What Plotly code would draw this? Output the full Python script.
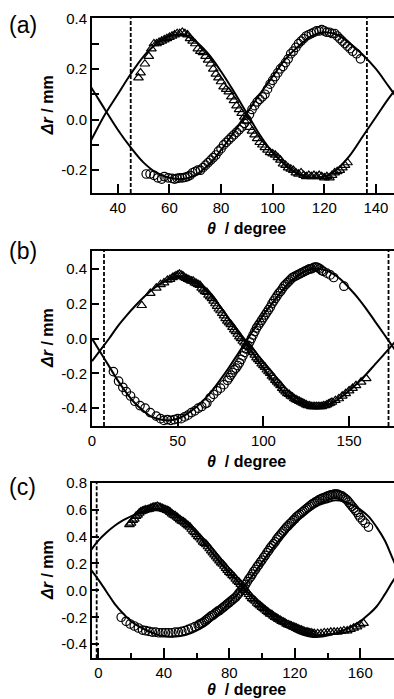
import plotly.graph_objects as go

# ---------------- Panel (a) ----------------
A_FIT_X = [25, 30, 35, 40, 45, 50, 55, 60, 65, 70, 75, 80, 85, 90, 95, 100, 105, 110, 115, 120, 125, 130, 135, 140, 145, 150]
A_FIT_TRI = [-0.17, -0.075, 0.02, 0.10, 0.18, 0.25, 0.30, 0.33, 0.335, 0.31, 0.26, 0.19, 0.11, 0.025, -0.06, -0.13, -0.18, -0.215, -0.23, -0.225, -0.195, -0.14, -0.065, 0.01, 0.085, 0.15]
A_FIT_CIR = [0.20, 0.122, 0.04, -0.04, -0.11, -0.17, -0.21, -0.23, -0.235, -0.22, -0.18, -0.12, -0.05, 0.025, 0.10, 0.17, 0.24, 0.29, 0.33, 0.345, 0.335, 0.30, 0.255, 0.20, 0.13, 0.06]

A_TRI_X = [48, 48.8, 50.5, 52, 53, 54, 55, 56, 57, 58, 59, 60, 61, 62, 63, 64, 65, 66, 67, 68, 69, 70, 71, 72, 73, 74, 75, 76, 77, 78, 79, 80,
           81, 82, 83, 84, 85, 86, 87, 88, 89, 90, 91, 92, 93, 94, 95, 96, 97, 98, 99, 100, 101, 102, 103, 104, 105, 106, 107, 108,
           109, 110, 111, 112, 113, 114, 115, 116, 117, 118, 119, 120, 121, 122, 123, 124, 125, 126, 127, 128, 129]
A_TRI_Y = [0.165, 0.185, 0.22, 0.25, 0.28, 0.30, 0.30, 0.305, 0.31, 0.315, 0.32, 0.325, 0.33, 0.335, 0.34, 0.34, 0.345, 0.34, 0.335, 0.32, 0.31, 0.30,
           0.28, 0.27, 0.265, 0.25, 0.235, 0.22, 0.20, 0.18, 0.165, 0.15, 0.13, 0.12, 0.11, 0.09, 0.075, 0.055, 0.04, 0.025, 0.01, -0.005,
           -0.03, -0.045, -0.06, -0.075, -0.09, -0.10, -0.11, -0.12, -0.13, -0.135, -0.14, -0.15, -0.16, -0.175, -0.18, -0.19, -0.195, -0.20,
           -0.21, -0.215, -0.21, -0.22, -0.225, -0.22, -0.225, -0.22, -0.225, -0.22, -0.225, -0.23, -0.225, -0.23, -0.22, -0.21, -0.205,
           -0.20, -0.19, -0.18, -0.17]

A_CIR_X = [51, 52.5, 54, 55.5, 57, 58, 59.5, 61, 62, 63, 64, 65, 66, 67, 68, 69, 70, 71, 72, 73, 74, 75, 76, 77, 78, 79, 80, 81, 82, 83,
           84, 85, 86, 87, 88, 89, 90, 91, 92, 93, 94, 95, 96, 97, 98, 99, 100, 101, 102, 103, 104, 105, 106, 107, 108, 109, 110, 111,
           112, 113, 114, 115, 116, 117, 118, 119, 120, 121, 122, 123, 124, 125, 126, 127, 128, 129, 130, 131, 132.5, 134]
A_CIR_Y = [-0.215, -0.215, -0.22, -0.23, -0.235, -0.225, -0.23, -0.232, -0.235, -0.232, -0.23, -0.23, -0.228, -0.225, -0.22, -0.21, -0.205,
           -0.20, -0.20, -0.19, -0.18, -0.17, -0.16, -0.15, -0.14, -0.125, -0.115, -0.10, -0.09, -0.08, -0.07, -0.06, -0.05, -0.04, -0.03,
           -0.015, 0.0, 0.02, 0.04, 0.055, 0.07, 0.08, 0.09, 0.10, 0.12, 0.14, 0.155, 0.17, 0.185, 0.20, 0.21, 0.225, 0.24, 0.26, 0.27,
           0.285, 0.30, 0.31, 0.32, 0.33, 0.335, 0.34, 0.345, 0.35, 0.35, 0.355, 0.35, 0.345, 0.345, 0.34, 0.34, 0.33, 0.32, 0.31, 0.30,
           0.29, 0.28, 0.27, 0.26, 0.24]

A_DASH = [45, 136.5]
A_XTICKS = [40, 60, 80, 100, 120, 140]
A_XTICKTEXT = ["40", "60", "80", "100", "120", "140"]
A_YTICKS = [0.4, 0.3, 0.2, 0.1, 0.0, -0.1, -0.2]
A_YTICKTEXT = ["0.4", "", "0.2", "", "0.0", "", "-0.2"]

# ---------------- Panel (b) ----------------
B_FIT_X = [0, 5, 10, 15, 20, 25, 30, 35, 40, 45, 50, 55, 60, 65, 70, 75, 80, 85, 90, 95, 100, 105, 110, 115, 120, 125, 130, 135, 140,
           145, 150, 155, 160, 165, 170, 175, 180]
B_FIT_TRI = [-0.13, -0.065, 0.0, 0.07, 0.13, 0.185, 0.235, 0.28, 0.315, 0.34, 0.35, 0.345, 0.325, 0.29, 0.24, 0.18, 0.11, 0.04, -0.03,
             -0.10, -0.17, -0.235, -0.29, -0.335, -0.365, -0.385, -0.39, -0.385, -0.37, -0.34, -0.30, -0.255, -0.205, -0.15, -0.095,
             -0.04, 0.02]
B_FIT_CIR = [0.0, -0.08, -0.16, -0.24, -0.31, -0.37, -0.415, -0.45, -0.465, -0.47, -0.46, -0.435, -0.40, -0.355, -0.30, -0.235,
             -0.165, -0.09, -0.015, 0.06, 0.135, 0.20, 0.265, 0.32, 0.36, 0.39, 0.40, 0.395, 0.375, 0.34, 0.29, 0.235, 0.17, 0.10,
             0.03, -0.04, -0.11]

B_TRI_X = [29, 34, 37.5, 40, 42, 44, 45.5, 47, 48, 49, 50, 51, 52, 53, 54, 55, 56, 57, 58, 59, 60, 61, 62, 63, 64, 65, 66, 67, 68, 69,
           70, 71, 72, 73, 74, 75, 76, 77, 78, 79, 80, 81, 82, 83, 84, 85, 86, 87, 88, 89, 90, 91, 92, 93, 94, 95, 96, 97, 98, 99,
           100, 101, 102, 103, 104, 105, 106, 107, 108, 109, 110, 111, 112, 113, 114, 115, 116, 117, 118, 119, 120, 121, 122, 123,
           124, 125, 126, 127, 128, 129, 130, 131, 132, 133, 134, 135, 136, 137, 138, 139, 140, 142, 144, 146, 148, 150, 152, 154,
           157, 160]
B_TRI_Y = [0.19, 0.26, 0.29, 0.31, 0.32, 0.335, 0.34, 0.35, 0.355, 0.36, 0.365, 0.37, 0.365, 0.36, 0.35, 0.345, 0.34, 0.335, 0.33,
           0.33, 0.32, 0.315, 0.31, 0.305, 0.29, 0.28, 0.27, 0.265, 0.25, 0.24, 0.23, 0.215, 0.20, 0.185, 0.17, 0.16, 0.145, 0.13,
           0.115, 0.10, 0.09, 0.08, 0.065, 0.05, 0.04, 0.025, 0.01, 0.0, -0.015, -0.025, -0.035, -0.045, -0.055, -0.07, -0.08,
           -0.095, -0.11, -0.12, -0.13, -0.145, -0.155, -0.165, -0.18, -0.19, -0.20, -0.215, -0.225, -0.24, -0.25, -0.26, -0.27,
           -0.285, -0.295, -0.305, -0.315, -0.32, -0.33, -0.335, -0.345, -0.35, -0.355, -0.36, -0.365, -0.37, -0.375, -0.38,
           -0.385, -0.385, -0.39, -0.39, -0.39, -0.39, -0.39, -0.39, -0.39, -0.385, -0.385, -0.38, -0.375, -0.37, -0.365, -0.355,
           -0.345, -0.33, -0.315, -0.30, -0.285, -0.27, -0.25, -0.23]

B_CIR_X = [12.5, 15.5, 18, 20, 22.5, 25, 28, 31, 34, 37.5, 40, 42, 44, 46, 48, 50, 52, 54, 56, 58, 60, 62, 64, 66, 67, 69, 71, 73, 75,
           77, 79, 80, 81, 82, 83, 84, 85, 86, 87, 88, 89, 90, 91, 92, 93, 94, 95, 96, 97, 98, 99, 100, 101, 102, 103, 104, 105,
           106, 107, 108, 109, 110, 111, 112, 113, 114, 115, 116, 117, 118, 119, 120, 121, 122, 123, 124, 125, 126, 127, 128, 129,
           130, 131, 132, 133, 134, 135, 137, 139, 141, 147]
B_CIR_Y = [-0.19, -0.245, -0.28, -0.305, -0.33, -0.36, -0.385, -0.40, -0.425, -0.445, -0.46, -0.47, -0.465, -0.47, -0.465, -0.46,
           -0.46, -0.45, -0.44, -0.425, -0.415, -0.40, -0.39, -0.375, -0.37, -0.34, -0.32, -0.30, -0.285, -0.265, -0.24, -0.225,
           -0.21, -0.195, -0.18, -0.17, -0.155, -0.14, -0.12, -0.10, -0.08, -0.06, -0.04, -0.02, 0.0, 0.02, 0.04, 0.06, 0.075,
           0.09, 0.105, 0.12, 0.135, 0.15, 0.165, 0.18, 0.20, 0.215, 0.23, 0.245, 0.26, 0.27, 0.285, 0.30, 0.31, 0.32, 0.33,
           0.34, 0.35, 0.355, 0.36, 0.365, 0.37, 0.375, 0.38, 0.385, 0.39, 0.395, 0.40, 0.40, 0.405, 0.41, 0.41, 0.405, 0.40,
           0.39, 0.385, 0.375, 0.365, 0.35, 0.30]

B_DASH = [7, 173]
B_XTICKS = [0, 50, 100, 150]
B_XTICKTEXT = ["0", "50", "100", "150"]
B_YTICKS = [0.4, 0.2, 0.0, -0.2, -0.4]
B_YTICKTEXT = ["0.4", "0.2", "0.0", "-0.2", "-0.4"]

# ---------------- Panel (c) ----------------
C_FIT_X = [-5, 0, 5, 10, 15, 20, 25, 30, 35, 40, 45, 50, 55, 60, 65, 70, 75, 80, 85, 90, 95, 100, 105, 110, 115, 120, 125, 130, 135,
           140, 145, 150, 155, 160, 165, 170, 175, 180, 185]
C_FIT_TRI = [0.29, 0.37, 0.43, 0.48, 0.52, 0.55, 0.575, 0.59, 0.595, 0.59, 0.57, 0.535, 0.485, 0.425, 0.35, 0.275, 0.20, 0.135, 0.07,
             0.0, -0.065, -0.125, -0.18, -0.23, -0.27, -0.305, -0.33, -0.345, -0.345, -0.335, -0.32, -0.295, -0.265, -0.23, -0.18,
             -0.12, -0.03, 0.07, 0.15]
C_FIT_CIR = [0.16, 0.08, -0.01, -0.10, -0.17, -0.23, -0.27, -0.30, -0.325, -0.34, -0.345, -0.34, -0.325, -0.30, -0.265, -0.215,
             -0.155, -0.09, -0.03, 0.045, 0.125, 0.21, 0.29, 0.365, 0.435, 0.50, 0.555, 0.60, 0.635, 0.655, 0.67, 0.66, 0.635,
             0.60, 0.55, 0.47, 0.37, 0.23, 0.10]

C_TRI_X = [19, 20, 21, 22, 23, 24, 25, 26, 27, 28, 29, 30, 31, 32, 33, 34, 35, 36, 37, 38, 39, 40, 41, 42, 43, 44, 45, 46, 47, 48, 49,
           50, 51, 52, 53, 54, 55, 56, 57, 58, 59, 60, 61, 62, 63, 64, 65, 66, 67, 68, 69, 70, 71, 72, 73, 74, 75, 76, 77, 78, 79,
           80, 81, 82, 83, 84, 85, 86, 87, 88, 89, 90, 91, 92, 93, 94, 95, 96, 97, 98, 99, 100, 101, 102, 103, 104, 105, 106, 107,
           108, 109, 110, 111, 112, 113, 114, 115, 116, 117, 118, 119, 120, 121, 122, 123, 124, 125, 126, 127, 128, 129, 130, 131,
           132, 134, 136, 138, 140, 142, 144, 146, 148, 150, 152, 154, 156, 158, 160, 162]
C_TRI_Y = [0.49, 0.50, 0.52, 0.53, 0.55, 0.56, 0.575, 0.585, 0.59, 0.595, 0.60, 0.60, 0.605, 0.61, 0.615, 0.62, 0.62, 0.625, 0.62,
           0.615, 0.61, 0.605, 0.60, 0.595, 0.59, 0.58, 0.57, 0.56, 0.555, 0.545, 0.535, 0.525, 0.515, 0.51, 0.50, 0.49, 0.48, 0.47,
           0.455, 0.44, 0.43, 0.415, 0.40, 0.39, 0.375, 0.36, 0.35, 0.34, 0.325, 0.31, 0.295, 0.28, 0.265, 0.25, 0.235, 0.22, 0.205,
           0.195, 0.18, 0.165, 0.15, 0.135, 0.125, 0.11, 0.10, 0.085, 0.07, 0.06, 0.045, 0.03, 0.015, 0.0, -0.015, -0.03, -0.045,
           -0.06, -0.07, -0.08, -0.095, -0.105, -0.115, -0.125, -0.135, -0.145, -0.155, -0.165, -0.175, -0.18, -0.19, -0.20,
           -0.205, -0.215, -0.22, -0.23, -0.235, -0.24, -0.25, -0.255, -0.26, -0.265, -0.27, -0.275, -0.28, -0.285, -0.29, -0.295,
           -0.30, -0.305, -0.31, -0.31, -0.315, -0.315, -0.32, -0.32, -0.32, -0.32, -0.315, -0.315, -0.31, -0.31, -0.31, -0.305,
           -0.30, -0.30, -0.29, -0.28, -0.27, -0.255, -0.245]

C_CIR_X = [14, 17, 19.5, 22, 24.5, 27, 29, 31, 33, 35, 37, 39, 41, 43, 45, 47, 49, 51, 53, 55, 57, 59, 61, 62, 63, 64, 65, 66, 67, 68,
           69, 70, 71, 72, 73, 74, 75, 76, 77, 78, 79, 80, 81, 82, 83, 84, 85, 86, 87, 88, 89, 90, 91, 92, 93, 94, 95, 96, 97, 98,
           99, 100, 101, 102, 103, 104, 105, 106, 107, 108, 109, 110, 111, 112, 113, 114, 115, 116, 117, 118, 119, 120, 121, 122,
           123, 124, 125, 126, 127, 128, 129, 130, 131, 132, 133, 134, 135, 136, 137, 138, 139, 140, 141, 142, 143, 144, 145, 146,
           147, 148, 149, 150, 151, 152, 153, 154, 155, 156, 157, 158, 159, 160, 161.5, 163, 165]
C_CIR_Y = [-0.20, -0.23, -0.25, -0.265, -0.28, -0.295, -0.30, -0.305, -0.31, -0.31, -0.315, -0.315, -0.315, -0.315, -0.315, -0.31,
           -0.31, -0.305, -0.30, -0.29, -0.28, -0.27, -0.26, -0.25, -0.245, -0.24, -0.23, -0.22, -0.21, -0.20, -0.19, -0.185,
           -0.175, -0.165, -0.155, -0.15, -0.14, -0.13, -0.12, -0.11, -0.10, -0.09, -0.08, -0.07, -0.06, -0.05, -0.035, -0.02,
           -0.005, 0.01, 0.025, 0.045, 0.065, 0.085, 0.10, 0.12, 0.14, 0.155, 0.175, 0.19, 0.21, 0.225, 0.245, 0.26, 0.28, 0.295,
           0.315, 0.33, 0.345, 0.36, 0.38, 0.395, 0.41, 0.425, 0.44, 0.455, 0.47, 0.48, 0.495, 0.505, 0.52, 0.53, 0.545, 0.555,
           0.565, 0.575, 0.585, 0.595, 0.605, 0.615, 0.625, 0.635, 0.645, 0.65, 0.66, 0.665, 0.675, 0.68, 0.685, 0.69, 0.695,
           0.70, 0.705, 0.71, 0.71, 0.715, 0.715, 0.715, 0.71, 0.705, 0.70, 0.69, 0.68, 0.67, 0.655, 0.64, 0.625, 0.61, 0.595,
           0.58, 0.56, 0.54, 0.52, 0.50, 0.47]

C_DASH = [-1]
C_XTICKS = [0, 40, 80, 120, 160]
C_XTICKTEXT = ["0", "40", "80", "120", "160"]
C_XMINOR = [20, 60, 100, 140]
C_YTICKS = [0.8, 0.6, 0.4, 0.2, 0.0, -0.2, -0.4]
C_YTICKTEXT = ["0.8", "0.6", "0.4", "0.2", "0.0", "-0.2", "-0.4"]

PANEL_LABELS = ["(a)", "(b)", "(c)"]
X_TITLE = "<b><i>θ</i>  / degree</b>"
Y_TITLE = "<b><i>Δr</i> / mm</b>"

# ---------------- Figure ----------------
W, H = 394, 699
FONT = "Liberation Sans, Arial, sans-serif"
fig = go.Figure()

panels = [
    dict(fx=A_FIT_X, ft=A_FIT_TRI, fc=A_FIT_CIR, tx=A_TRI_X, ty=A_TRI_Y, cx=A_CIR_X, cy=A_CIR_Y,
         dash=A_DASH, xr=[30, 147], yr=[-0.29, 0.40], xt=A_XTICKS, xtt=A_XTICKTEXT, yt=A_YTICKS, ytt=A_YTICKTEXT,
         xminor=None, top=18.3, bot=193.0, xlen=9, label_y=25, title_gap=25),
    dict(fx=B_FIT_X, ft=B_FIT_TRI, fc=B_FIT_CIR, tx=B_TRI_X, ty=B_TRI_Y, cx=B_CIR_X, cy=B_CIR_Y,
         dash=B_DASH, xr=[0, 176.2], yr=[-0.502, 0.502], xt=B_XTICKS, xtt=B_XTICKTEXT, yt=B_YTICKS, ytt=B_YTICKTEXT,
         xminor=None, top=251.0, bot=426.0, xlen=10, label_y=251, title_gap=25),
    dict(fx=C_FIT_X, ft=C_FIT_TRI, fc=C_FIT_CIR, tx=C_TRI_X, ty=C_TRI_Y, cx=C_CIR_X, cy=C_CIR_Y,
         dash=C_DASH, xr=[-3.85, 180.6], yr=[-0.505, 0.80], xt=C_XTICKS, xtt=C_XTICKTEXT, yt=C_YTICKS, ytt=C_YTICKTEXT,
         xminor=C_XMINOR, top=482.7, bot=658.3, xlen=10, label_y=487, title_gap=21),
]

X0 = 92 / W
annotations = []
shapes = []
for i, p in enumerate(panels):
    n = i + 1
    xa = "x" if n == 1 else f"x{n}"
    ya = "y" if n == 1 else f"y{n}"
    fig.add_trace(go.Scatter(x=p["fx"], y=p["ft"], mode="lines", line=dict(color="black", width=2, shape="spline"),
                             xaxis=xa, yaxis=ya, hoverinfo="skip"))
    fig.add_trace(go.Scatter(x=p["fx"], y=p["fc"], mode="lines", line=dict(color="black", width=2, shape="spline"),
                             xaxis=xa, yaxis=ya, hoverinfo="skip"))
    fig.add_trace(go.Scatter(x=p["tx"], y=p["ty"], mode="markers",
                             marker=dict(symbol="triangle-up-open", size=8.5, color="black", line=dict(width=1.2, color="black")),
                             xaxis=xa, yaxis=ya, cliponaxis=True))
    fig.add_trace(go.Scatter(x=p["cx"], y=p["cy"], mode="markers",
                             marker=dict(symbol="circle-open", size=8.5, color="black", line=dict(width=1.2, color="black")),
                             xaxis=xa, yaxis=ya, cliponaxis=True))
    for d in p["dash"]:
        shapes.append(dict(type="line", xref=xa, yref=f"{ya} domain", x0=d, x1=d, y0=0, y1=1,
                           line=dict(color="black", width=1.8, dash="4px,2px")))

    ydom = [1 - p["bot"] / H, 1 - p["top"] / H]
    xkey = "xaxis" if n == 1 else f"xaxis{n}"
    ykey = "yaxis" if n == 1 else f"yaxis{n}"
    xaxis = dict(domain=[X0, 1], range=p["xr"], anchor=ya, showgrid=False, zeroline=False,
                 showline=True, linecolor="black", linewidth=1.8, mirror=True,
                 ticks="inside", ticklen=p["xlen"], tickwidth=1.5, tickcolor="black",
                 tickmode="array", tickvals=p["xt"], ticktext=p["xtt"],
                 tickfont=dict(family=FONT, size=15, color="black"), automargin=False)
    if p["xminor"] is not None:
        xaxis["minor"] = dict(tickmode="array", tickvals=p["xminor"], ticks="inside", ticklen=5,
                              tickwidth=1.5, tickcolor="black", showgrid=False)
    yaxis = dict(domain=ydom, range=p["yr"], anchor=xa, showgrid=False, zeroline=False,
                 showline=True, linecolor="black", linewidth=1.8, mirror=False,
                 ticks="inside", ticklen=7, tickwidth=1.5, tickcolor="black",
                 tickmode="array", tickvals=p["yt"], ticktext=p["ytt"],
                 tickfont=dict(family=FONT, size=15, color="black"), automargin=False)
    fig.update_layout(**{xkey: xaxis, ykey: yaxis})

    annotations.append(dict(text=PANEL_LABELS[i], x=7 / W, y=1 - p["label_y"] / H, xref="paper", yref="paper",
                            xanchor="left", yanchor="middle", showarrow=False,
                            font=dict(family=FONT, size=23, color="black")))
    annotations.append(dict(text=Y_TITLE, x=47.5 / W, y=1 - (p["top"] + p["bot"]) / 2 / H, xref="paper", yref="paper",
                            xanchor="center", yanchor="middle", textangle=-90, showarrow=False,
                            font=dict(family=FONT, size=16, color="black")))
    annotations.append(dict(text=X_TITLE, x=246 / W, y=1 - (p["bot"] + p["title_gap"]) / H, xref="paper", yref="paper",
                            xanchor="center", yanchor="top", showarrow=False,
                            font=dict(family=FONT, size=16, color="black")))

fig.update_layout(width=W, height=H, margin=dict(l=0, r=0, t=0, b=0), showlegend=False,
                  plot_bgcolor="white", paper_bgcolor="white", annotations=annotations, shapes=shapes)

fig.write_html("out.html", config={"displayModeBar": False},
               post_script="document.body.style.margin='0px';document.body.style.overflow='hidden';")
